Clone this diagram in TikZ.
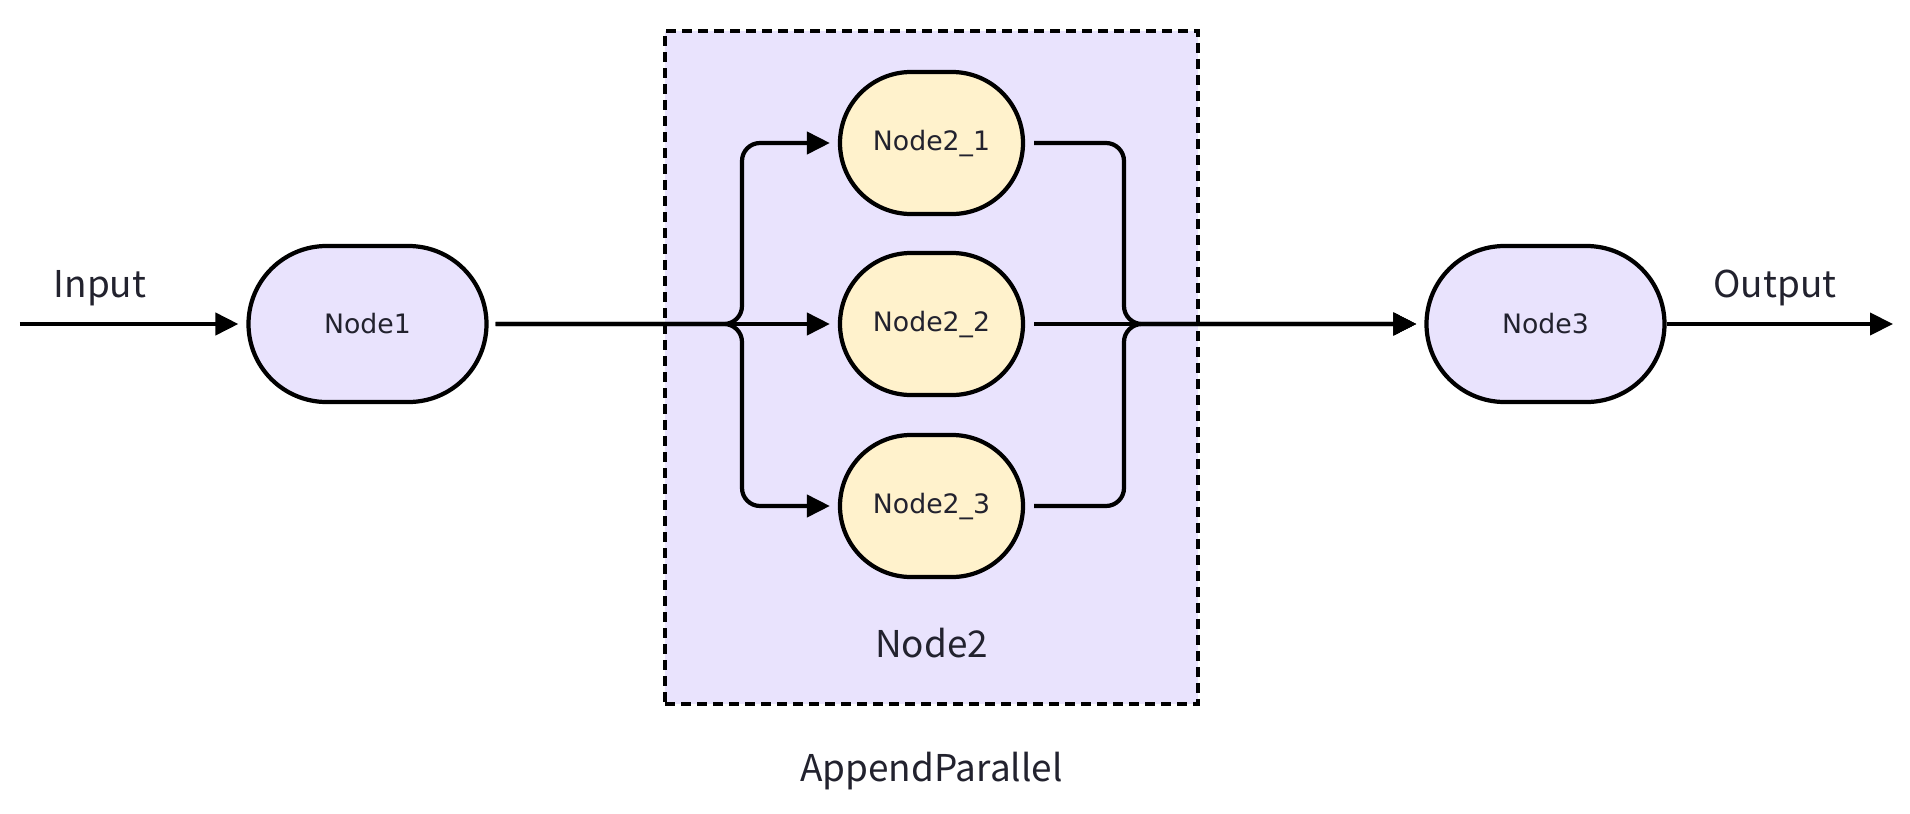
\documentclass[tikz,border=0pt]{standalone}
\usepackage{fontspec}
\setmainfont{Noto Sans CJK SC}
\newfontfamily\boxfont{DejaVu Sans}
\usepackage{tikz}
\usetikzlibrary{arrows.meta}

\definecolor{lavender}{HTML}{E9E3FD}
\definecolor{cream}{HTML}{FFF2CC}
\definecolor{inkgray}{HTML}{22222E}

\begin{document}
\begin{tikzpicture}[>={Triangle[length=0.23cm,width=0.22cm]}, line width=1.2pt,
    stage/.style={draw, fill=lavender, rounded corners=0.78cm, minimum width=2.38cm, minimum height=1.56cm, text=inkgray, font=\boxfont\fontsize{7.6}{9}\selectfont},
    branch/.style={draw, fill=cream, rounded corners=0.71cm, minimum width=1.83cm, minimum height=1.42cm, text=inkgray, font=\boxfont\fontsize{7.6}{9}\selectfont},
    note/.style={text=inkgray, font=\fontsize{10.5}{13}\selectfont},
    flow/.style={->, shorten <=0.07cm, shorten >=0.08cm}]
    \useasboundingbox (0,0) rectangle (19.1,8.13);

    % Group box for the parallel part
    \node (grp) at (9.315,4.455) [draw, line width=1pt, dash pattern=on 0.1cm off 0.06cm, fill=lavender, minimum width=5.33cm, minimum height=6.73cm] {};
    \node (grplbl) at (9.315,1.70) [note] {Node2};
    \node (title) at (9.315,0.42) [note] {AppendParallel};

    % Stages
    \node (n1) at (3.675,4.89) [stage] {Node1};
    \node (n21) at (9.315,6.70) [branch] {Node2\_1};
    \node (n22) at (9.315,4.89) [branch] {Node2\_2};
    \node (n23) at (9.315,3.07) [branch] {Node2\_3};
    \node (n3) at (15.455,4.89) [stage] {Node3};

    % Free ends and bends
    \coordinate (in) at (0.20,4.89);
    \coordinate (out) at (18.93,4.89);
    \coordinate (fork) at (7.42,4.89);
    \coordinate (merge) at (11.24,4.89);

    % Input and output
    \draw[flow, shorten <=0pt] (in) -- (n1);
    \node (inlbl) at (1.00,5.25) [note] {Input};
    \draw[flow, shorten <=0pt, shorten >=0pt] (n3) -- (out);
    \node (outlbl) at (17.75,5.25) [note] {Output};

    % Split into the branches
    \draw[flow, rounded corners=0.18cm] (n1.east) -- (fork) |- (n21.west);
    \draw[flow] (n1.east) -- (n22.west);
    \draw[flow, rounded corners=0.18cm] (n1.east) -- (fork) |- (n23.west);

    % Join back into Node3
    \draw[flow, shorten <=0.09cm, rounded corners=0.18cm] (n21.east) -| (merge) -- (n3.west);
    \draw[flow, shorten <=0.09cm] (n22.east) -- (n3.west);
    \draw[flow, shorten <=0.09cm, rounded corners=0.18cm] (n23.east) -| (merge) -- (n3.west);
\end{tikzpicture}
\end{document}
